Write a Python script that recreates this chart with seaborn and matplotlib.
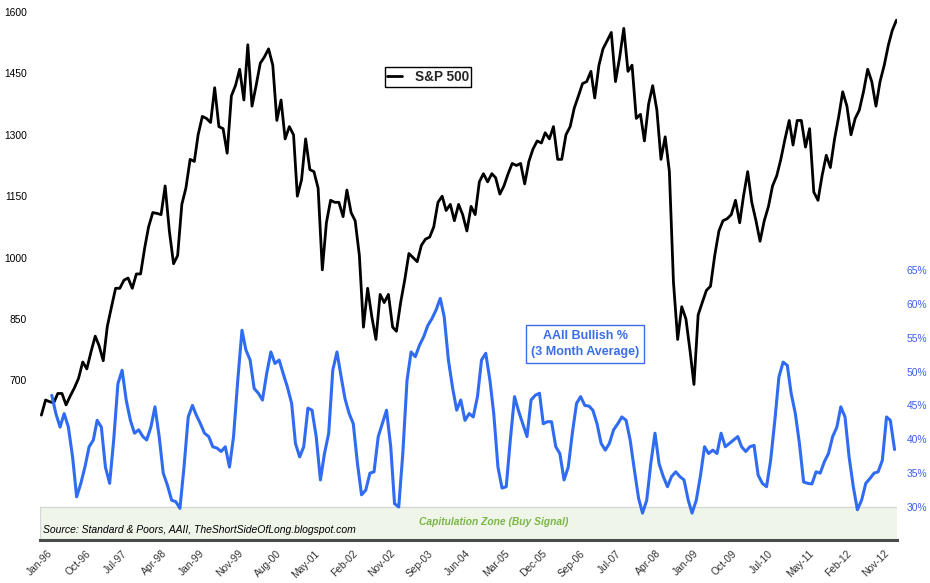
import numpy as np
import pandas as pd
import matplotlib
matplotlib.use("Agg")
import matplotlib.pyplot as plt
import seaborn as sns
from matplotlib.lines import Line2D

# S&P 500, one value per month (mid-month), Jan-1996 .. Apr-2013
sp500 = [
    615, 652, 648, 645, 668, 668, 640, 662, 682, 705, 745, 728,  # 1996
    770, 808, 785, 748, 832, 880, 925, 925, 945, 950, 925, 960,  # 1997
    960, 1025, 1075, 1110, 1108, 1105, 1175, 1065, 985, 1005, 1130, 1170,  # 1998
    1240, 1235, 1300, 1345, 1340, 1330, 1415, 1320, 1315, 1255, 1395, 1420,  # 1999
    1460, 1385, 1520, 1370, 1420, 1475, 1490, 1510, 1470, 1335, 1385, 1290,  # 2000
    1320, 1300, 1150, 1190, 1290, 1215, 1210, 1170, 970, 1085, 1140, 1135,  # 2001
    1135, 1100, 1165, 1110, 1090, 1005, 830, 925, 855, 800, 910, 890,  # 2002
    910, 830, 820, 890, 945, 1010, 1000, 990, 1030, 1045, 1050, 1075,  # 2003
    1135, 1150, 1115, 1130, 1090, 1130, 1105, 1065, 1125, 1105, 1185, 1205,  # 2004
    1185, 1205, 1195, 1155, 1175, 1205, 1230, 1225, 1230, 1180, 1235, 1265,  # 2005
    1285, 1280, 1305, 1290, 1320, 1240, 1240, 1300, 1320, 1365, 1395, 1425,  # 2006
    1430, 1455, 1390, 1470, 1510, 1530, 1550, 1430, 1490, 1560, 1455, 1470,  # 2007
    1340, 1350, 1285, 1375, 1420, 1360, 1240, 1295, 1210, 940, 800, 880,  # 2008
    850, 770, 690, 860, 890, 920, 930, 1005, 1065, 1090, 1095, 1105,  # 2009
    1140, 1085, 1150, 1210, 1135, 1090, 1040, 1090, 1125, 1175, 1200, 1240,  # 2010
    1290, 1335, 1275, 1335, 1335, 1270, 1315, 1160, 1140, 1200, 1250, 1220,  # 2011
    1290, 1345, 1405, 1370, 1300, 1340, 1360, 1405, 1460, 1430, 1370, 1430,  # 2012
    1470, 1520, 1555, 1580,  # 2013
]

# AAII bullish %, 3 month average, monthly from Apr-1996 .. Apr-2013
aaii_bull = [
    46.5, 43.8, 41.8, 43.8, 41.8, 37.4, 31.5, 33.5, 35.9, 38.9,
    39.9, 42.8, 41.8, 35.9, 33.5, 39.9, 48.2, 50.2, 45.8, 42.8,
    40.9, 41.4, 40.4, 39.9, 41.8, 44.8, 40.4, 35.0, 33.2, 31.0,
    30.8, 29.8, 35.9, 43.3, 45.0, 43.6, 42.3, 40.9, 40.4, 38.9,
    38.7, 38.2, 38.9, 35.9, 40.4, 48.7, 56.1, 53.2, 51.7, 47.5,
    46.8, 45.8, 49.7, 52.9, 51.2, 51.7, 49.7, 47.7, 45.3, 39.4,
    37.4, 38.9, 44.6, 44.3, 40.4, 34.0, 37.9, 40.9, 50.2, 52.9,
    49.2, 46.0, 43.8, 42.3, 36.4, 31.8, 32.5, 35.0, 35.2, 40.4,
    42.3, 44.3, 38.9, 30.5, 30.0, 37.9, 48.7, 52.9, 52.2, 53.9,
    55.1, 56.8, 57.8, 59.1, 60.8, 58.1, 51.7, 47.7, 44.3, 45.8,
    42.8, 43.8, 43.3, 46.3, 51.7, 52.7, 48.7, 43.8, 35.9, 32.8,
    33.0, 39.9, 46.3, 44.1, 42.3, 40.4, 45.8, 46.5, 46.8, 42.3,
    42.6, 42.6, 38.9, 37.9, 34.0, 35.9, 40.9, 45.3, 46.3, 45.0,
    44.9, 44.3, 42.3, 39.4, 38.4, 39.4, 41.4, 42.3, 43.3, 42.8,
    39.9, 35.5, 31.3, 29.1, 31.0, 36.4, 40.9, 36.4, 34.5, 33.0,
    34.5, 35.2, 34.5, 34.0, 31.0, 29.1, 31.0, 34.5, 38.9, 37.9,
    38.4, 37.9, 40.9, 38.9, 39.4, 39.9, 40.4, 38.9, 38.2, 38.9,
    39.1, 34.7, 33.5, 33.0, 36.9, 42.8, 49.2, 51.4, 50.9, 46.8,
    43.8, 39.4, 33.7, 33.5, 33.4, 35.2, 35.0, 36.7, 37.9, 40.4,
    41.8, 44.8, 43.3, 37.4, 33.0, 29.6, 31.0, 33.5, 34.2, 35.0,
    35.2, 36.9, 43.3, 42.8, 38.5,
]

tick_labels = ["Jan-96", "Oct-96", "Jul-97", "Apr-98", "Jan-99", "Nov-99", "Aug-00",
               "May-01", "Feb-02", "Nov-02", "Sep-03", "Jun-04", "Mar-05", "Dec-05",
               "Sep-06", "Jul-07", "Apr-08", "Jan-09", "Oct-09", "Jul-10", "May-11",
               "Feb-12", "Nov-12"]
left_ticks = [700, 850, 1000, 1150, 1300, 1450, 1600]
right_ticks = [30, 35, 40, 45, 50, 55, 60, 65]

sp_dates = pd.date_range("1996-01-01", periods=len(sp500), freq="MS") + pd.Timedelta(days=14)
aaii_dates = pd.date_range("1996-04-01", periods=len(aaii_bull), freq="MS")
tick_dates = [pd.Timestamp("1996-01-05") + pd.Timedelta(weeks=40 * i) for i in range(len(tick_labels))]

sns.set_style("white")
plt.rcParams["font.family"] = ["Liberation Sans", "DejaVu Sans"]

blue = "#2f6cf2"
fig = plt.figure(figsize=(9.3, 5.83), dpi=100)
ax = fig.add_axes([40 / 930, 1 - 540 / 583, 857 / 930, 528 / 583])
ax2 = ax.twinx()

sns.lineplot(x=sp_dates, y=sp500, ax=ax, color="black", lw=2.0)
sns.lineplot(x=aaii_dates, y=aaii_bull, ax=ax2, color=blue, lw=2.2, zorder=3)

ax.set_xlim(pd.Timestamp("1996-01-05"), pd.Timestamp("2013-04-19"))
ax.set_ylim(310, 1600)
ax2.set_ylim(25.13, 103.1)

# capitulation zone
ax2.axhspan(25.13, 30, color="#eff5e9", zorder=1)
ax2.axhline(30, color="#d6d6d6", lw=0.9, zorder=1)
ax2.axvline(pd.Timestamp("1996-01-05"), ymax=(30 - 25.13) / (103.1 - 25.13), color="#d6d6d6", lw=0.9)

ax.set_yticks(left_ticks)
ax.set_yticklabels([str(v) for v in left_ticks])
ax2.set_yticks(right_ticks)
ax2.set_yticklabels([f"{v}%" for v in right_ticks])
ax.set_xticks(tick_dates)
ax.set_xticklabels(tick_labels, rotation=45)

ax.tick_params(axis="y", length=0, pad=9.4, labelsize=7.4, labelcolor="black")
ax2.tick_params(axis="y", length=0, pad=7.2, labelsize=7.4, labelcolor="#3a5ff0")
ax.tick_params(axis="x", length=0, pad=6, labelsize=7.4, labelcolor="#333333")
ax.set_xlabel("")
ax.set_ylabel("")
ax2.set_ylabel("")

for a in (ax, ax2):
    for s in a.spines.values():
        s.set_visible(False)
ax2.spines["bottom"].set_visible(True)
ax2.spines["bottom"].set_color("#4a4a4a")
ax2.spines["bottom"].set_linewidth(2.2)

fig.text(43 / 930, 1 - 530 / 583, "Source: Standard & Poors, AAII, TheShortSideOfLong.blogspot.com",
         fontsize=7.5, style="italic", va="center", ha="left", color="black")
fig.text(494 / 930, 1 - 522 / 583, "Capitulation Zone (Buy Signal)", fontsize=7.4, style="italic",
         weight="bold", va="center", ha="center", color="#7ab648")

ax.legend(handles=[Line2D([], [], color="black", lw=2)], labels=["S&P 500"], loc="center",
          bbox_to_anchor=(428 / 930, 1 - 77 / 583), bbox_transform=fig.transFigure,
          frameon=True, fancybox=False, edgecolor="black", framealpha=1, handlelength=1.1,
          handletextpad=0.9, borderpad=0.2, prop={"weight": "bold", "size": 9.8})
ax.get_legend().get_frame().set_linewidth(1.0)

fig.text(585 / 930, 1 - 344 / 583, "AAII Bullish %\n(3 Month Average)", fontsize=9.0, weight="bold",
         ha="center", va="center", color="#3a6ee8", linespacing=1.55,
         bbox=dict(boxstyle="square,pad=0.4", fc="white", ec="#3a6ee8", lw=1.0))

fig.savefig("out.png", dpi=100)
